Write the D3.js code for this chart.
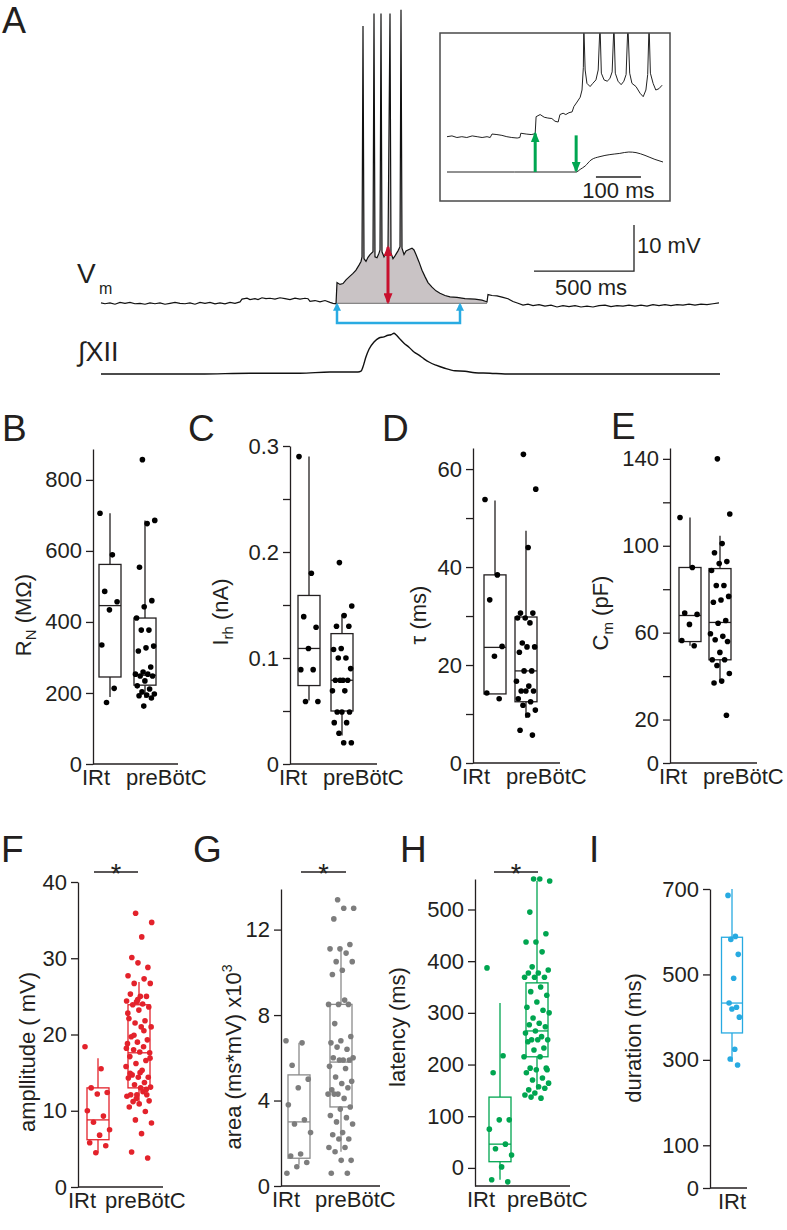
<!DOCTYPE html>
<html>
<head>
<meta charset="utf-8">
<script src="https://cdn.jsdelivr.net/npm/d3@7"></script>
<style>
  body { margin: 0; background: #fff; }
  text { font-family: "Liberation Sans", Arial, sans-serif; fill: #231f20; }
</style>
</head>
<body>
<svg id="fig" width="787" height="1230"></svg>
<script>
// ---------- panel A traces (time in ms, Vm in mV above baseline, XII in a.u.) ----------
const vmTrace = [
  [0,0.1],[20,-0.1],[45,0.1],[70,-0.2],[95,0.2],[120,0],[145,0.2],[170,-0.1],[195,0],[220,-0.2],
  [245,0.1],[270,-0.1],[295,0.1],[320,-0.2],[345,0],[370,0.2],[395,0],[420,-0.1],[445,0.1],[470,-0.2],
  [495,0.2],[520,0],[545,0.2],[570,-0.1],[595,0.1],[620,-0.1],[645,0.2],[670,0],[695,0.3],
  [705,0.9],[730,1.1],[745,0.8],[770,1.0],[785,0.8],[805,1.2],[825,1.0],[845,1.1],[870,0.9],[895,1.2],
  [920,1.0],[945,0.8],[970,1.1],[995,0.9],[1020,1.1],[1035,1.0],[1045,0.4],[1070,0.6],[1095,0.3],
  [1120,0.6],[1145,0.2],[1160,0],[1175,-0.1],
  [1180,4.5],[1195,4.1],[1210,4.3],[1225,5.1],[1245,5.9],[1260,6.5],[1275,7.2],[1290,8.3],[1300,9.1],
  [1305,10.1],[1310,60.3],[1315,9.7],[1325,9.1],[1335,10.0],[1345,10.6],[1360,11.2],[1365,63.0],
  [1370,10.1],[1380,9.9],[1390,10.9],[1395,11.6],[1400,63.0],[1405,11.2],[1415,10.1],[1425,10.9],
  [1435,12.0],[1445,63.0],[1450,10.9],[1460,9.7],[1470,10.3],[1485,11.4],[1495,12.3],[1500,63.8],
  [1505,12.0],[1515,10.6],[1525,11.4],[1540,11.7],[1555,12.0],[1565,11.6],[1575,10.6],[1590,9.0],
  [1605,7.2],[1620,5.8],[1635,4.5],[1655,3.5],[1675,2.7],[1695,2.2],[1720,1.7],[1745,1.4],[1780,1.3],
  [1820,1.0],[1870,0.9],[1905,0.7],[1925,0.4],[1930,0.3],[1935,1.9],[1955,1.7],[1980,1.6],[2010,1.3],
  [2035,1.0],[2060,0.4],[2085,0],[2110,-0.4],[2135,-0.2],[2160,-0.5],[2190,-0.3],[2220,-0.6],[2250,-0.4],
  [2280,-0.8],[2310,-0.5],[2340,-0.7],[2370,-0.5],[2400,-0.8],[2430,-0.6],[2460,-0.8],[2490,-0.5],
  [2520,-0.4],[2550,-0.7],[2580,-0.5],[2610,-0.6],[2640,-0.4],[2670,-0.6],[2700,-0.4],[2730,-0.6],
  [2760,-0.3],[2790,-0.5],[2820,-0.3],[2850,-0.5],[2880,-0.3],[2910,-0.4],[2940,-0.2],[2970,-0.4],
  [3000,-0.2],[3030,-0.3],[3060,-0.1],[3090,0.1]
];
const xiiTrace = [
  [0,0],[495,0],[745,0.02],[995,0.02],[1145,0.05],[1245,0.05],[1285,0.05],[1300,0.07],[1310,0.18],
  [1325,0.43],[1340,0.62],[1365,0.8],[1390,0.9],[1415,0.93],[1435,0.97],[1450,0.98],[1465,1.02],
  [1475,0.98],[1490,0.9],[1515,0.77],[1540,0.67],[1565,0.55],[1590,0.47],[1615,0.38],[1640,0.3],
  [1675,0.22],[1715,0.15],[1770,0.08],[1820,0.07],[1870,0.03],[1945,0.02],[2020,0],[2495,0],[3095,0]
];
const burstWindow = [1175, 1930];      // shaded burst, ms
const burstOnsetEnd = [1180, 1795];    // blue bracket, ms
const amplitudeAt = [1435, 12.2];      // red arrow: time, peak mV

// inset (ms, mV / a.u.)
const insetVm = [
  [0,0],[11,0.3],[22,-0.3],[33,0],[44,-0.3],[56,0.3],[67,0],[78,-0.3],[89,0],[96,-0.3],[100,1.0],
  [111,0.8],[122,0.5],[133,0],[144,-0.3],[156,-0.5],[162,-0.3],[164,1.3],[176,1.0],[187,0.8],[193,1.0],
  [196,1.3],[198,7.5],[207,8.3],[216,7.3],[224,7.0],[233,6.8],[240,5.8],[247,5.5],[251,8.3],[258,8.8],
  [264,8.3],[271,9.0],[278,9.3],[282,11.3],[289,13.0],[296,14.8],[300,17.5],[303,26],[304,42],[307,25],
  [311,20],[318,18.8],[324,20],[331,21.3],[336,25],[340,42],[343,23.8],[349,21.3],[356,20.8],[362,21.8],
  [367,24.3],[371,42],[374,23.8],[380,20.8],[387,19.5],[393,20.8],[398,23.3],[402,42],[406,23.8],[411,20],
  [420,18.8],[429,16.3],[436,15],[442,17.5],[446,23.3],[449,42],[452,23.8],[458,20],[464,17.5],[471,18],
  [478,19.3]
];
const insetXii = [
  [0,0],[150,0],[287,0],[296,0.13],[307,0.3],[320,0.6],[340,0.77],[362,0.87],[384,0.93],[404,1.0],
  [420,0.97],[440,0.83],[462,0.63],[480,0.5]
];
const vmOnset = 196, xiiOnset = 287;   // green arrows, ms

// ---------- intrinsic properties (B-E), box = [whiskerLow, q1, median, q3, whiskerHigh] ----------
const rnIRt = [706, 589, 486, 457, 434, 335, 213, 173];
const rnPre = [857, 686, 677, 554, 460, 443, 411, 377, 377, 332, 327, 318, 273, 259, 253, 253, 248, 248,
               234, 220, 211, 203, 197, 194, 192, 186, 163];
const rnBoxIRt = [189, 245, 446, 562, 706];
const rnBoxPre = [186, 222, 250, 411, 686];

const irhIRt = [0.29, 0.18, 0.139, 0.129, 0.109, 0.089, 0.089, 0.059, 0.059];
const irhPre = [0.19, 0.149, 0.14, 0.13, 0.13, 0.109, 0.108, 0.1, 0.1, 0.09, 0.079, 0.079, 0.079, 0.079,
                0.069, 0.069, 0.049, 0.049, 0.049, 0.039, 0.039, 0.029, 0.02, 0.02];
const irhBoxIRt = [0.06, 0.074, 0.109, 0.159, 0.29];
const irhBoxPre = [0.027, 0.05, 0.079, 0.123, 0.141];

const tauIRt = [53.8, 38.4, 33.3, 23.8, 21.8, 14.3, 13.1];
const tauPre = [63, 55.9, 44, 30.6, 30.6, 29.6, 29.6, 28.6, 24.5, 23.7, 23.7, 22.6, 18.8, 18.8, 16.7, 15.7,
                14.7, 14.7, 14.7, 13.1, 12.5, 11.8, 10.8, 9.8, 6.7, 5.7];
const tauBoxIRt = [14.1, 14.1, 23.6, 38.4, 53.6];
const tauBoxPre = [9.2, 12.5, 18.8, 29.8, 47.4];

const cmIRt = [113, 90, 69, 68.4, 63.8, 56.4, 54];
const cmPre = [140, 114.6, 101, 96.8, 92.7, 91.8, 88.6, 81.7, 81.7, 76.7, 75, 74, 65.6, 64.3, 59.5, 58.3,
               56.7, 55.9, 50.9, 47.5, 47.5, 44.9, 41.2, 37.7, 36.8, 22];
const cmBoxIRt = [54, 55.9, 67.9, 90, 113];
const cmBoxPre = [37.4, 47.5, 64.7, 89.5, 104.6];

// ---------- burst properties (F-I) ----------
const ampIRt = [18.4, 15.5, 13.0, 12.4, 12.2, 10.0, 9.3, 8.5, 7.5, 6.8, 5.8, 5.4, 4.5];
const ampPre = [35.9, 34.7, 32.8, 30.1, 28.8, 29.4, 27.7, 27.3, 26.7, 26.7, 25.0, 25.3, 25.0, 24.3, 24.4,
                24.0, 23.9, 23.6, 23.2, 22.1, 21.8, 21.5, 21.0, 21.0, 19.7, 19.3, 19.0, 18.8, 18.4, 18.0,
                17.6, 17.7, 17.1, 16.6, 16.2, 15.8, 15.3, 14.7, 14.4, 14.4, 14.3, 13.7, 13.4, 13.1, 13.0,
                12.1, 12.1, 12.1, 11.9, 12.5, 11.2, 11.3, 10.9, 10.5, 9.9, 8.8, 8.4, 7.0, 4.6, 3.8,
                24.6, 22.8, 20.5, 19.9, 16.9, 15.0, 14.9, 12.8, 11.6, 18.2];
const ampBoxIRt = [4.5, 6.2, 8.8, 13.0, 16.9];
const ampBoxPre = [10.8, 13.0, 17.6, 23.9, 26.9];

const areaIRt = [6.8, 6.7, 5.65, 5.0, 4.6, 3.8, 3.1, 2.9, 2.5, 1.5, 1.4, 1.1, 0.9, 0.6];
const areaPre = [13.4, 13.0, 13.0, 12.5, 11.3, 11.1, 11.1, 10.9, 10.5, 10.5, 10.1, 9.9, 8.5, 8.5, 8.5, 8.7,
                 7.6, 7.0, 6.8, 6.7, 6.4, 6.5, 6.0, 5.9, 6.0, 5.9, 5.9, 5.6, 5.5, 5.1, 4.9, 4.8, 4.5, 4.6,
                 4.3, 4.3, 4.1, 4.3, 3.7, 3.6, 3.3, 3.2, 3.0, 2.9, 2.5, 2.4, 2.2, 2.2, 1.8, 1.8, 1.6, 1.2,
                 1.2, 0.6, 0.6];
const areaBoxIRt = [1.0, 1.3, 3.0, 5.2, 6.7];
const areaBoxPre = [1.6, 3.7, 5.8, 8.5, 11.0];

const latIRt = [387, 217, 184, 93, 93, 75, 46, 37, 25, 2, -23, -27];
const latPre = [559, 555, 559, 495, 453, 437, 437, 418, 389, 383, 377, 377, 369, 369, 369, 350, 341, 334,
                321, 311, 305, 290, 300, 280, 277, 273, 265, 261, 254, 248, 248, 248, 244, 232, 228, 215,
                215, 193, 193, 190, 184, 174, 170, 164, 157, 151, 154, 145, 141, 135, 137, 190];
const latBoxIRt = [-23, 12, 46, 137, 319];
const latBoxPre = [151, 215, 265, 358, 555];

const durIRt = [685, 589, 582, 547, 491, 433, 423, 419, 400, 325, 302, 288];
const durBoxIRt = [295, 363, 433, 587, 700];

const groups = ["IRt", "preBötC"];

// ---------- drawing ----------
const svg = d3.select("#fig");
const ink = "#231f20";
const FONT = '"Liberation Sans", Arial, sans-serif';
const red = "#e3222b", grey = "#7d7d7d", green = "#00a550", blue = "#27aae1";

const defs = svg.append("defs");
function arrowHead(id, color, len, wid) {
  defs.append("marker").attr("id", id)
    .attr("markerUnits", "userSpaceOnUse")
    .attr("viewBox", `0 0 ${len} ${wid}`)
    .attr("refX", len - 2).attr("refY", wid / 2)
    .attr("markerWidth", len).attr("markerHeight", wid)
    .attr("orient", "auto-start-reverse")
    .append("path").attr("d", `M0,0 L${len},${wid / 2} L0,${wid} Z`).attr("fill", color);
}
arrowHead("hRed", "#c8102e", 11, 9);
arrowHead("hBlue", "#29abe2", 8, 8);
arrowHead("hGreen", "#00a651", 11, 9);

// panel letters
[["A", 2, 33, 36], ["B", 2, 441, 37], ["C", 188, 441, 37], ["D", 382, 441, 37], ["E", 611, 439, 37],
 ["F", 1, 862, 37], ["G", 193, 862, 37], ["H", 400, 862, 37], ["I", 589, 862, 37]].forEach(([t, x, y, s]) => {
  svg.append("text").attr("x", x).attr("y", y).attr("font-size", s).text(t);
});

// ----- A: main traces -----
const tA = d3.scaleLinear().domain([0, 3100]).range([101, 721]);
const vA = d3.scaleLinear().domain([0, 10]).range([303.3, 257.3]);
const xA = d3.scaleLinear().domain([0, 1]).range([374, 334]);

const burst = vmTrace.filter(d => d[0] >= burstWindow[0] && d[0] <= burstWindow[1]);
svg.append("path").datum(burst)
  .attr("d", d3.area().x(d => tA(d[0])).y0(vA(0)).y1(d => vA(d[1])))
  .attr("fill", "#c9c3c5");
svg.append("line")
  .attr("x1", tA(burstWindow[0])).attr("x2", tA(burstWindow[1]))
  .attr("y1", vA(0)).attr("y2", vA(0)).attr("stroke", "#6d6d6d").attr("stroke-width", 1);
svg.append("path").datum(vmTrace)
  .attr("d", d3.line().x(d => tA(d[0])).y(d => vA(d[1])))
  .attr("fill", "none").attr("stroke", "#111").attr("stroke-width", 1.2);
svg.append("path").datum(xiiTrace)
  .attr("d", d3.line().curve(d3.curveMonotoneX).x(d => tA(d[0])).y(d => xA(d[1])))
  .attr("fill", "none").attr("stroke", "#111").attr("stroke-width", 1.4);

// red amplitude arrow
svg.append("line")
  .attr("x1", tA(amplitudeAt[0])).attr("x2", tA(amplitudeAt[0]))
  .attr("y1", vA(0) - 1).attr("y2", vA(amplitudeAt[1]))
  .attr("stroke", "#c8102e").attr("stroke-width", 3)
  .attr("marker-start", "url(#hRed)").attr("marker-end", "url(#hRed)");

// blue duration bracket
{
  const x1 = tA(burstOnsetEnd[0]), x2 = tA(burstOnsetEnd[1]);
  const top = vA(-0.3), bot = vA(-4.3);
  svg.append("path").attr("d", `M${x1},${top} L${x1},${bot} L${x2},${bot} L${x2},${top}`)
    .attr("fill", "none").attr("stroke", "#29abe2").attr("stroke-width", 2.5)
    .attr("marker-start", "url(#hBlue)").attr("marker-end", "url(#hBlue)");
}

// scale bars
{
  const cx = tA(2665), cy = vA(7);
  svg.append("path").attr("d", `M${tA(2165)},${cy} H${cx} V${vA(17)}`)
    .attr("fill", "none").attr("stroke", "#222").attr("stroke-width", 1.3);
  svg.append("text").attr("x", cx + 3).attr("y", 253).attr("font-size", 22).text("10 mV");
  svg.append("text").attr("x", tA(2450)).attr("y", 295).attr("font-size", 22)
    .attr("text-anchor", "middle").text("500 ms");
}

// trace labels
svg.append("text").attr("x", 77).attr("y", 283).attr("font-size", 28).text("V");
svg.append("text").attr("x", 99).attr("y", 294).attr("font-size", 16).text("m");
svg.append("text").attr("x", 78).attr("y", 361).attr("font-size", 27).text("\u222BXII");

// ----- A: inset -----
const box = { x: 440, y: 33, w: 230, h: 168 };
defs.append("clipPath").attr("id", "insetClip").append("rect")
  .attr("x", box.x).attr("y", box.y).attr("width", box.w).attr("height", box.h);
const tI = d3.scaleLinear().domain([0, 480]).range([447, 663]);
const vI = d3.scaleLinear().domain([0, 40]).range([136.7, 30]);
const xI = d3.scaleLinear().domain([0, 1]).range([172, 152]);

const gi = svg.append("g").attr("clip-path", "url(#insetClip)");
gi.append("path").datum(insetVm)
  .attr("d", d3.line().x(d => tI(d[0])).y(d => vI(d[1])))
  .attr("fill", "none").attr("stroke", "#222").attr("stroke-width", 1);
gi.append("path").datum(insetXii)
  .attr("d", d3.line().curve(d3.curveMonotoneX).x(d => tI(d[0])).y(d => xI(d[1])))
  .attr("fill", "none").attr("stroke", "#222").attr("stroke-width", 1);
svg.append("rect").attr("x", box.x).attr("y", box.y).attr("width", box.w).attr("height", box.h)
  .attr("fill", "none").attr("stroke", "#4a4a4a").attr("stroke-width", 1.5);

svg.append("line").attr("x1", tI(vmOnset)).attr("x2", tI(vmOnset))
  .attr("y1", xI(0)).attr("y2", vI(1.2))
  .attr("stroke", "#00a651").attr("stroke-width", 3).attr("marker-end", "url(#hGreen)");
svg.append("line").attr("x1", tI(xiiOnset)).attr("x2", tI(xiiOnset))
  .attr("y1", vI(0.5)).attr("y2", xI(0.06))
  .attr("stroke", "#00a651").attr("stroke-width", 3).attr("marker-end", "url(#hGreen)");

svg.append("line").attr("x1", tI(331)).attr("x2", tI(431)).attr("y1", 177).attr("y2", 177)
  .attr("stroke", "#222").attr("stroke-width", 1.5);
svg.append("text").attr("x", tI(381)).attr("y", 198).attr("font-size", 22)
  .attr("text-anchor", "middle").text("100 ms");

// ----- box plot panels -----
function boxPanel(p) {
  const g = svg.append("g");
  const y = d3.scaleLinear().domain(p.dom).range([p.yb, p.yt]);
  const axis = d3.axisLeft(y).tickValues(p.ticks).tickSize(7).tickPadding(4).tickSizeOuter(0)
    .tickFormat(d => p.labels.includes(d) ? p.fmt(d) : "");
  const ga = g.append("g").attr("transform", `translate(${p.ax},0)`).call(axis)
    .attr("font-size", 22).attr("font-family", FONT).style("color", ink);
  ga.selectAll("path, line").attr("stroke-width", 1.3);

  g.append("line").attr("x1", p.ax).attr("x2", p.xEnd).attr("y1", p.yb).attr("y2", p.yb)
    .attr("stroke", ink).attr("stroke-width", 1.3);

  p.groups.forEach((gr, k) => {
    const cx = p.ax + gr.off, w = p.bw;
    const [lo, q1, med, q3, hi] = gr.box;
    const c = p.boxColor;
    g.append("line").attr("x1", cx).attr("x2", cx).attr("y1", y(q3)).attr("y2", y(hi))
      .attr("stroke", c).attr("stroke-width", 1.3);
    g.append("line").attr("x1", cx).attr("x2", cx).attr("y1", y(q1)).attr("y2", y(lo))
      .attr("stroke", c).attr("stroke-width", 1.3);
    g.append("rect").attr("x", cx - w / 2).attr("y", y(q3)).attr("width", w).attr("height", y(q1) - y(q3))
      .attr("fill", "none").attr("stroke", c).attr("stroke-width", 1.3);
    g.append("line").attr("x1", cx - w / 2).attr("x2", cx + w / 2).attr("y1", y(med)).attr("y2", y(med))
      .attr("stroke", c).attr("stroke-width", 1.3);

    g.selectAll(null).data(gr.pts).join("circle")
      .attr("cx", (d, i) => cx + (((i * 0.618034 + 0.37 * k) % 1) - 0.5) * p.spread + (p.shift || 0))
      .attr("cy", d => y(d))
      .attr("r", 2.8).attr("fill", p.dotColor);

    g.append("text").attr("x", p.ax + (k === 0 ? p.lab[0] : p.lab[1])).attr("y", p.yb + 21)
      .attr("font-size", 22).attr("text-anchor", p.groups.length === 1 ? "middle" : "start")
      .text(groups[k]);
  });

  // rotated y label
  const t = g.append("text")
    .attr("transform", `translate(${p.lx + 8},${p.ly}) rotate(-90)`)
    .attr("text-anchor", "middle").attr("font-size", 22);
  p.title.forEach(([s, kind]) => {
    const ts = t.append("tspan").text(s);
    if (kind === "sub") ts.attr("font-size", 15).attr("dy", 5);
    if (kind === "back") ts.attr("dy", -5);
    if (kind === "sup") ts.attr("font-size", 14).attr("dy", -9);
  });

  if (p.sig) {
    g.append("line").attr("x1", p.ax + p.sig[0]).attr("x2", p.ax + p.sig[1]).attr("y1", 872).attr("y2", 872)
      .attr("stroke", ink).attr("stroke-width", 1.3);
    g.append("text").attr("x", p.ax + (p.sig[0] + p.sig[1]) / 2).attr("y", 883)
      .attr("text-anchor", "middle").attr("font-size", 27).text("*");
  }
}

const k = d => String(d);
const black = { boxColor: ink, dotColor: "#000", bw: 22, spread: 20 };

boxPanel({ ...black, ax: 93, yb: 764, yt: 449, dom: [0, 887], xEnd: 178,
  ticks: [0, 200, 400, 600, 800], labels: [0, 200, 400, 600, 800], fmt: k, lab: [-11, 33],
  groups: [{ off: 17, pts: rnIRt, box: rnBoxIRt }, { off: 52, pts: rnPre, box: rnBoxPre }],
  lx: 23, ly: 615, title: [["R"], ["N", "sub"], [" (M\u03A9)", "back"]] });

boxPanel({ ...black, ax: 290, yb: 764, yt: 446, dom: [0, 0.3], xEnd: 377,
  ticks: [0, 0.05, 0.1, 0.15, 0.2, 0.25, 0.3], labels: [0, 0.1, 0.2, 0.3],
  fmt: d => d === 0 ? "0" : d.toFixed(1), lab: [-11, 33],
  groups: [{ off: 19, pts: irhIRt, box: irhBoxIRt }, { off: 52, pts: irhPre, box: irhBoxPre }],
  lx: 220, ly: 612, title: [["I"], ["rh", "sub"], [" (nA)", "back"]] });

boxPanel({ ...black, ax: 473, yb: 763, yt: 448, dom: [0, 64.3], xEnd: 560,
  ticks: [0, 10, 20, 30, 40, 50, 60], labels: [0, 20, 40, 60], fmt: k, lab: [-11, 33],
  groups: [{ off: 22, pts: tauIRt, box: tauBoxIRt }, { off: 53, pts: tauPre, box: tauBoxPre }],
  lx: 418, ly: 615, title: [["\u03C4 (ms)"]] });

boxPanel({ ...black, ax: 670, yb: 763, yt: 448, dom: [0, 145], xEnd: 757,
  ticks: [0, 20, 40, 60, 80, 100, 120, 140], labels: [0, 20, 60, 100, 140], fmt: k, lab: [-11, 33],
  groups: [{ off: 20, pts: cmIRt, box: cmBoxIRt }, { off: 50, pts: cmPre, box: cmBoxPre }],
  lx: 600, ly: 613, title: [["C"], ["m", "sub"], [" (pF)", "back"]] });

boxPanel({ ax: 78, yb: 1187, yt: 882, dom: [0, 40], xEnd: 163, bw: 22, spread: 26,
  boxColor: red, dotColor: red,
  ticks: [0, 10, 20, 30, 40], labels: [0, 10, 20, 30, 40], fmt: k, lab: [-10, 27],
  groups: [{ off: 20, pts: ampIRt, box: ampBoxIRt }, { off: 61, pts: ampPre, box: ampBoxPre }],
  lx: 27, ly: 1052, title: [["ampllitude ( mV)"]], sig: [16, 60] });

boxPanel({ ax: 281, yb: 1186, yt: 889, dom: [0, 13.9], xEnd: 380, bw: 22, spread: 26,
  boxColor: "#8a8a8a", dotColor: grey,
  ticks: [0, 4, 8, 12], labels: [0, 4, 8, 12], fmt: k, lab: [-9, 34],
  groups: [{ off: 18, pts: areaIRt, box: areaBoxIRt }, { off: 60, pts: areaPre, box: areaBoxPre }],
  lx: 233, ly: 1057, title: [["area (ms*mV) x10"], ["3", "sup"]], sig: [20, 65] });

boxPanel({ ax: 475, yb: 1186, yt: 879, dom: [-35, 559], xEnd: 570, bw: 22, spread: 26,
  boxColor: green, dotColor: green,
  ticks: [0, 100, 200, 300, 400, 500], labels: [0, 100, 200, 300, 400, 500], fmt: k, lab: [-8, 32],
  groups: [{ off: 25, pts: latIRt, box: latBoxIRt }, { off: 62, pts: latPre, box: latBoxPre }],
  lx: 397, ly: 1027, title: [["latency (ms)"]], sig: [19, 63] });

boxPanel({ ax: 710, yb: 1188, yt: 889, dom: [0, 700], xEnd: 747, bw: 21, spread: 12, shift: 2,
  boxColor: blue, dotColor: blue,
  ticks: [0, 100, 300, 500, 700], labels: [0, 100, 300, 500, 700], fmt: k, lab: [22, 22],
  groups: [{ off: 22, pts: durIRt, box: durBoxIRt }],
  lx: 633, ly: 1038, title: [["duration (ms)"]] });
</script>
</body>
</html>
